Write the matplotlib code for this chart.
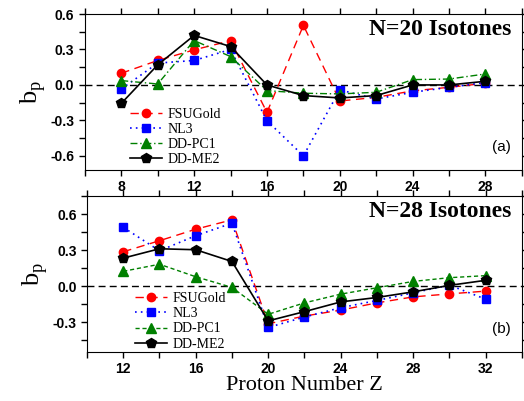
import matplotlib
matplotlib.use("Agg")
import matplotlib.pyplot as plt
from matplotlib.ticker import MultipleLocator

plt.rcParams['axes.unicode_minus'] = False

# N=20 isotones
z_a = [8, 10, 12, 14, 16, 18, 20, 22, 24, 26, 28]
fsu_a = [0.099, 0.207, 0.297, 0.374, -0.232, 0.504, -0.136, -0.105, -0.05, -0.02, 0.014]
nl3_a = [-0.034, 0.185, 0.207, 0.300, -0.303, -0.600, -0.042, -0.119, -0.062, -0.02, 0.02]
pc1_a = [0.037, 0.008, 0.376, 0.240, -0.048, -0.07, -0.076, -0.062, 0.045, 0.05, 0.093]
me2_a = [-0.156, 0.17, 0.419, 0.325, 0.0, -0.09, -0.11, -0.09, 0.0, 0.0, 0.031]

# N=28 isotones
z_b = [12, 14, 16, 18, 20, 22, 24, 26, 28, 30, 32]
fsu_b = [0.286, 0.378, 0.474, 0.552, -0.314, -0.25, -0.20, -0.14, -0.09, -0.065, -0.042]
nl3_b = [0.49, 0.294, 0.42, 0.524, -0.345, -0.258, -0.18, -0.12, -0.056, 0.008, -0.109]
pc1_b = [0.123, 0.182, 0.078, -0.011, -0.235, -0.14, -0.067, -0.014, 0.039, 0.07, 0.087]
me2_b = [0.233, 0.311, 0.303, 0.205, -0.29, -0.213, -0.132, -0.095, -0.048, 0.006, 0.048]

fig = plt.figure(figsize=(5.24, 4.01), dpi=100)
ax1 = fig.add_axes([0.162, 0.576, 0.834, 0.389])
ax2 = fig.add_axes([0.166, 0.122, 0.830, 0.389])

serif = 'Liberation Serif'
sans = 'Liberation Sans'


def draw(ax, z, fsu, nl3, pc1, me2, pc1_ls, title, tag, xlim, ylim, leg_anchor):
    ax.axhline(0, color='black', ls=(0, (5, 3)), lw=1.0, zorder=1)
    ax.plot(z, fsu, color='red', ls=(0, (6, 4)), lw=1.0, marker='o', ms=6, label='FSUGold')
    ax.plot(z, nl3, color='blue', ls=(0, (1, 2.5)), lw=1.2, marker='s', ms=6, label='NL3')
    ax.plot(z, pc1, color='green', ls=pc1_ls, lw=1.0, marker='^', ms=6.5, label='DD-PC1')
    ax.plot(z, me2, color='black', ls='-', lw=1.2, marker='p', ms=7, label='DD-ME2')
    ax.set_xlim(*xlim)
    ax.set_ylim(*ylim)
    ax.xaxis.set_major_locator(MultipleLocator(4))
    ax.xaxis.set_minor_locator(MultipleLocator(2))
    ax.yaxis.set_major_locator(MultipleLocator(0.3))
    ax.yaxis.set_minor_locator(MultipleLocator(0.15))
    ax.yaxis.set_major_formatter(matplotlib.ticker.FormatStrFormatter('%.1f'))
    ax.tick_params(which='both', direction='out', top=True, right=True, labeltop=False, labelright=False)
    ax.tick_params(which='major', length=4, width=1)
    ax.tick_params(which='minor', length=4, width=1)
    for lab in ax.get_xticklabels() + ax.get_yticklabels():
        lab.set_fontfamily(sans)
        lab.set_fontweight('bold')
        lab.set_fontsize(10)
    ax.set_ylabel('b$_\\mathregular{p}$', fontsize=19, fontfamily=serif, labelpad=2)
    ax.text(0.975, 0.9, title, transform=ax.transAxes, ha='right', va='center',
            fontsize=17, fontweight='bold', fontfamily=serif)
    ax.text(0.975, 0.15, tag, transform=ax.transAxes, ha='right', va='center',
            fontsize=11, fontfamily=sans)
    ax.legend(loc='upper left', bbox_to_anchor=leg_anchor, frameon=False,
              prop={'family': serif, 'size': 10}, handlelength=2.3,
              labelspacing=0.16, borderaxespad=0, borderpad=0, handletextpad=0.4)


draw(ax1, z_a, fsu_a, nl3_a, pc1_a, me2_a, (0, (5, 2, 1, 2)), 'N=20 Isotones', '(a)',
     (6, 30), (-0.72, 0.6), (0.103, 0.40))
draw(ax2, z_b, fsu_b, nl3_b, pc1_b, me2_b, (0, (3, 2)), 'N=28 Isotones', '(b)',
     (10, 34), (-0.55, 0.75), (0.11, 0.385))
ax2.set_xlabel('Proton Number Z', fontsize=16, fontfamily=serif, labelpad=0)

fig.savefig('out.png', dpi=100)
